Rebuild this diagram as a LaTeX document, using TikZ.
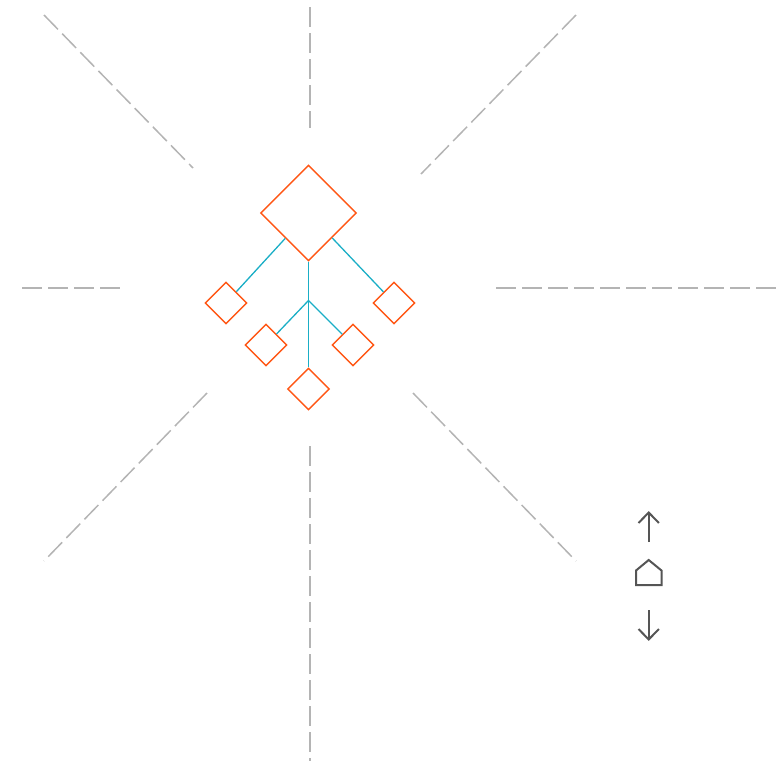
\documentclass[tikz,border=0pt]{standalone}
\usepackage{tikz}
\usetikzlibrary{positioning,shapes.geometric}
\usepackage{xcolor}
\definecolor{guidegray}{HTML}{B4B4B4}
\definecolor{nodeorange}{HTML}{FF5614}
\definecolor{linkteal}{HTML}{1AAEC6}
\definecolor{icongray}{HTML}{555555}
\begin{document}
\begin{tikzpicture}[x=1pt,y=-1pt,
  guide/.style={guidegray,line width=1.5pt,dash pattern=on 20pt off 6pt},
  bignode/.style={diamond,draw=nodeorange,line width=1.4pt,inner sep=0pt,minimum size=96pt},
  leaf/.style={diamond,draw=nodeorange,line width=1.4pt,inner sep=0pt,minimum size=42pt},
  link/.style={linkteal,line width=1.3pt},
  icon/.style={icongray,line width=2pt}]
\useasboundingbox (0,0) rectangle (780,761);
% radial guides
\draw[guide] (310,7) -- (310,128);
\draw[guide] (310,446) -- (310,761);
\draw[guide] (22,288) -- (125,288);
\draw[guide] (496,288) -- (780,288);
\draw[guide] (44,15) -- (193,168);
\draw[guide] (576,15) -- (421,174);
\draw[guide] (207,393) -- (44,561);
\draw[guide] (413,393) -- (576,561);
% tree
\node[bignode] (top) at (308.5,213) {};
\node[leaf] (l1) at (226,303) {};
\node[leaf] (r1) at (394,303) {};
\node[leaf] (l2) at (266,345) {};
\node[leaf] (r2) at (353,345) {};
\node[leaf] (b) at (308.5,389) {};
\coordinate (hub) at (308.5,300.5);
\draw[link] (top) -- (l1);
\draw[link] (top) -- (r1);
\draw[link] (top) -- (hub) -- (b);
\draw[link] (hub) -- (l2);
\draw[link] (hub) -- (r2);
% controls
\draw[icon] (648.7,542) -- (648.7,512.5);
\draw[icon] (638.5,523) -- (648.7,512.5) -- (658.9,523);
\draw[icon] (636,585) -- (636,570.5) -- (648.7,560) -- (661.5,570.5) -- (661.5,585) -- cycle;
\draw[icon] (648.7,610) -- (648.7,639.5);
\draw[icon] (638.5,629) -- (648.7,639.5) -- (658.9,629);
\end{tikzpicture}
\end{document}
